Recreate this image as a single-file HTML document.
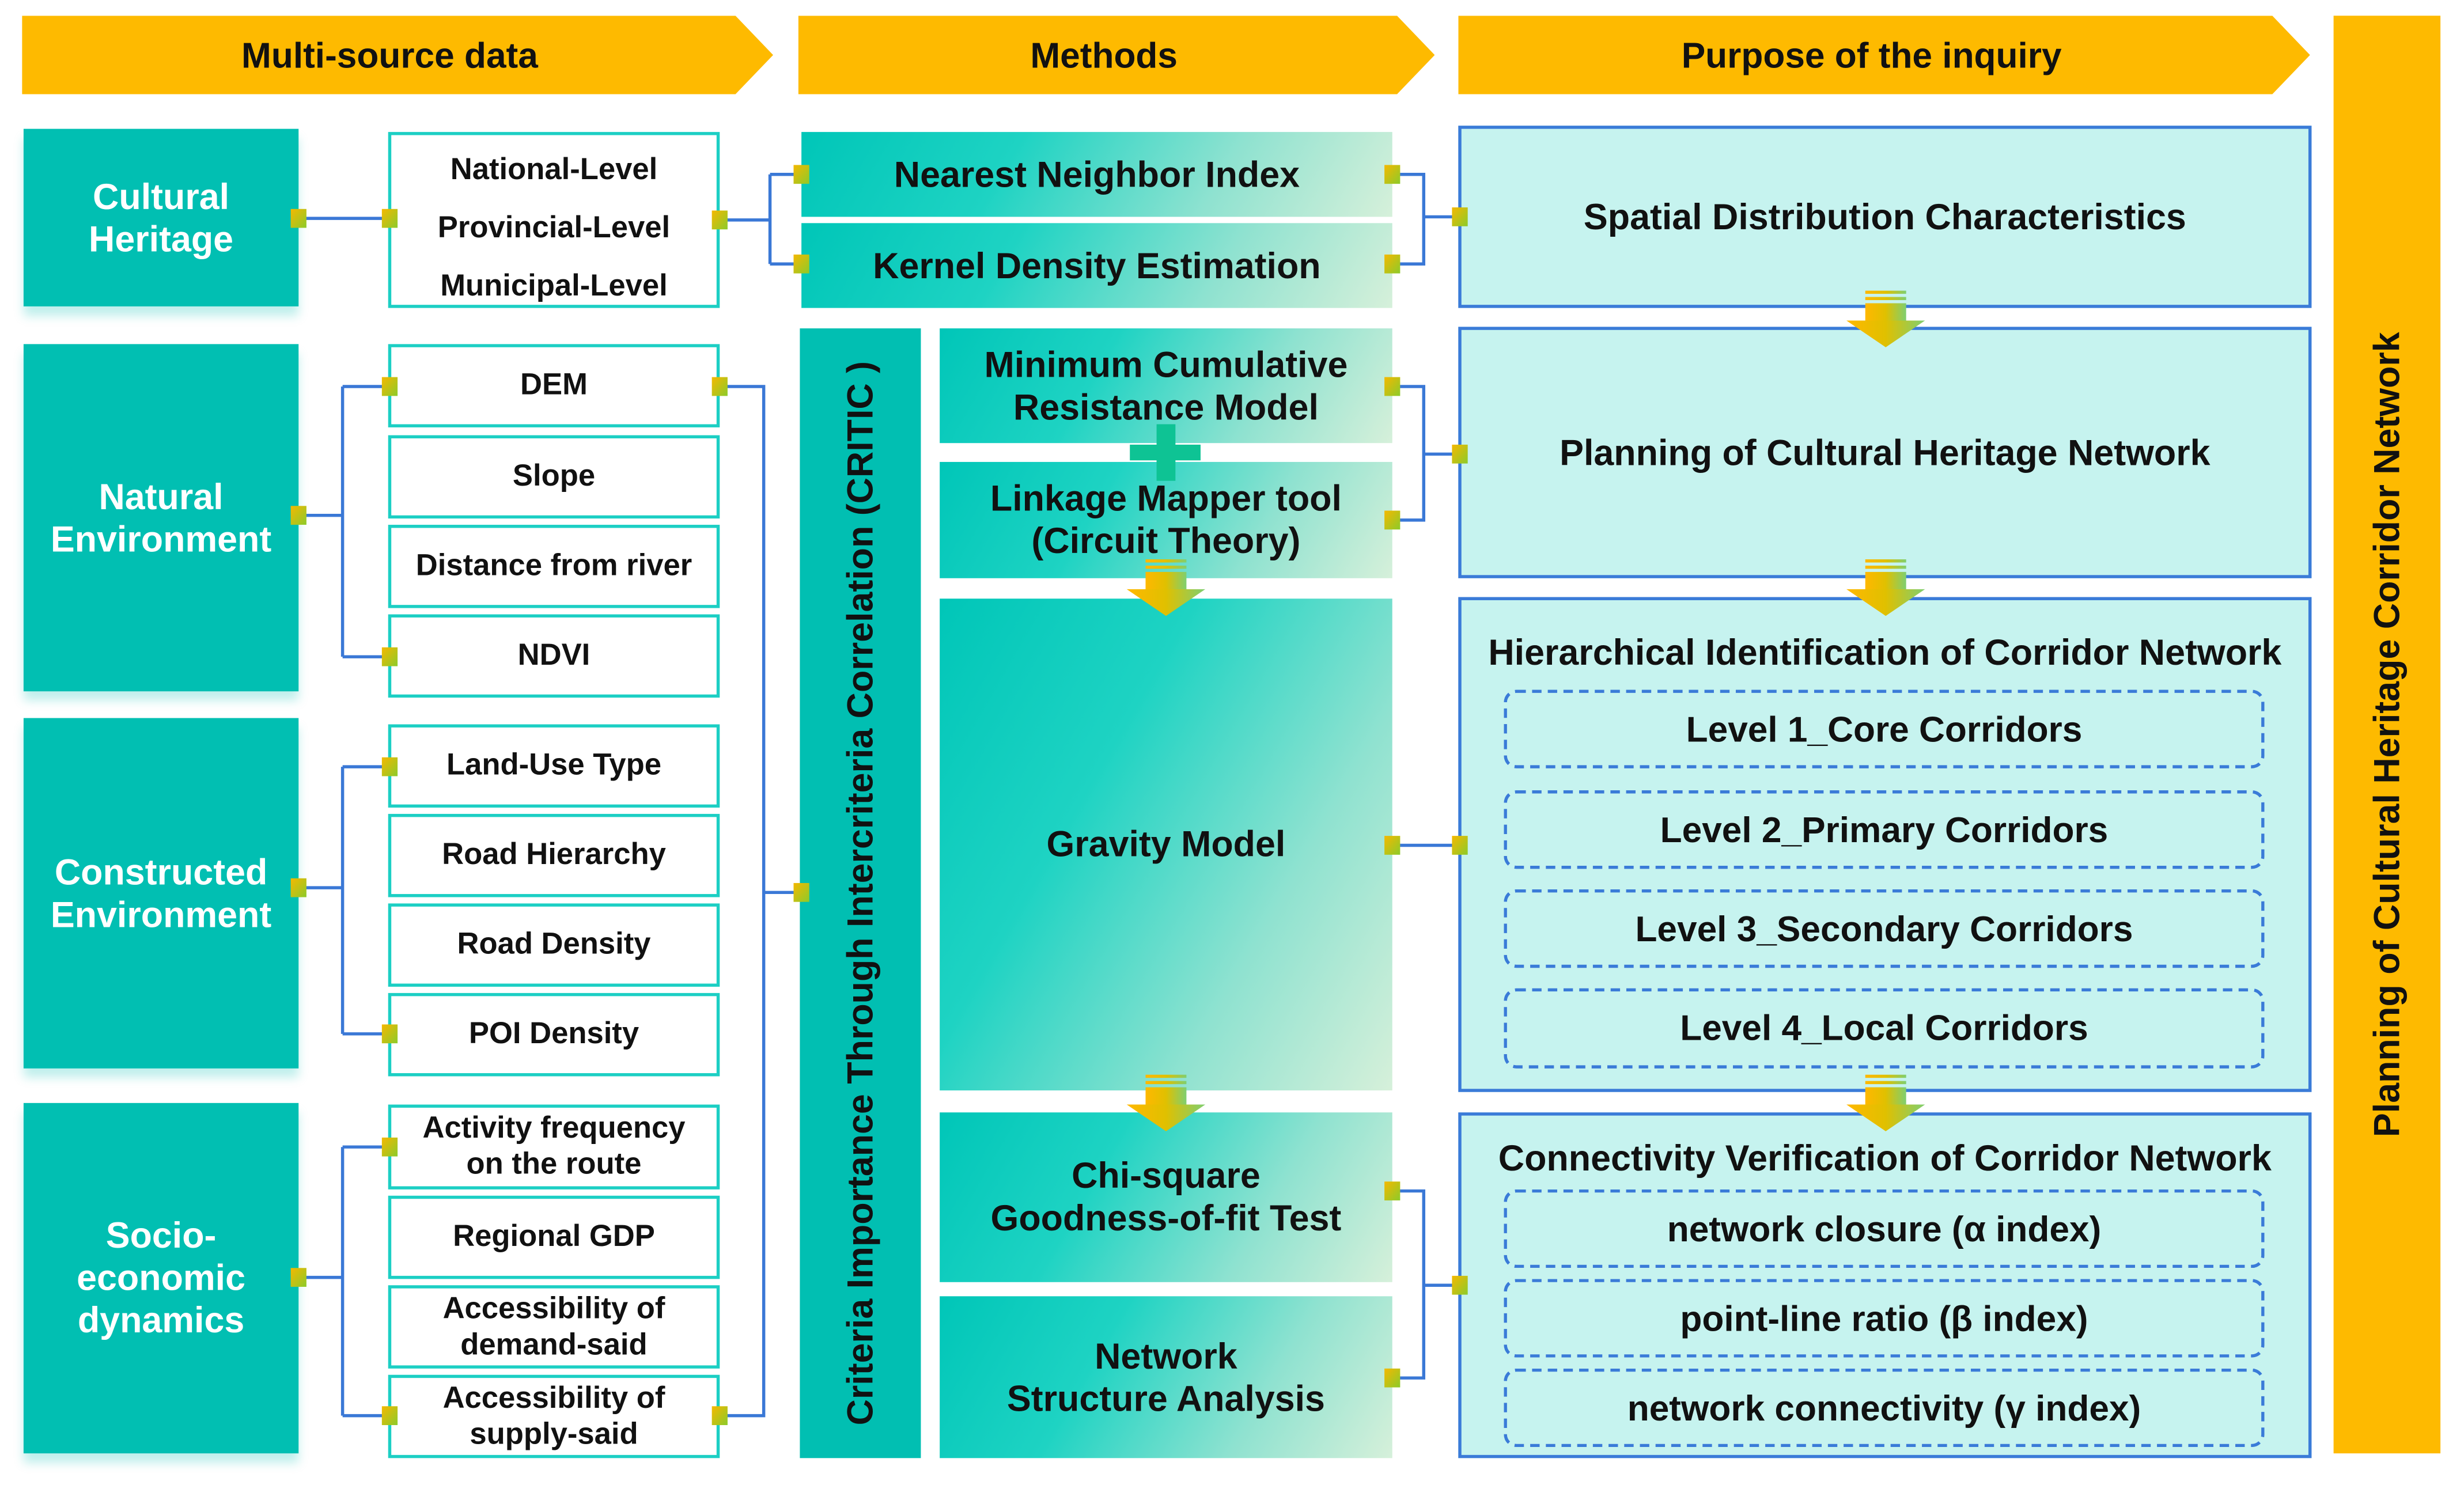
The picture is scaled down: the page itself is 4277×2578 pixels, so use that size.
<!DOCTYPE html>
<html><head><meta charset="utf-8"><style>
html,body{margin:0;padding:0;background:#fff;}
body{width:4277px;height:2577px;overflow:hidden;position:relative;}
#s{position:absolute;left:0;top:0;width:1568px;height:945px;transform:scale(2.72768);transform-origin:0 0;font-family:"Liberation Sans",Arial,sans-serif;font-weight:bold;}
.a{position:absolute;box-sizing:border-box;display:flex;align-items:center;justify-content:center;text-align:center;}
.hd{background:#FEBA00;color:#111;font-size:22.8px;clip-path:polygon(0 0,calc(100% - 24px) 0,100% 50%,calc(100% - 24px) 100%,0 100%);}
.tl{background:#01BFB2;color:#fff;font-size:23px;line-height:27px;box-shadow:0 6px 6px rgba(0,190,180,.25);}
.wb{background:#fff;border:2px solid #1CCFC4;color:#111;font-size:19.3px;line-height:23px;}
.gm{background:linear-gradient(120deg,#00C6B8 0%,#1ED3C3 35%,#8FE2D0 70%,#D6F0DA 100%);color:#111;font-size:23px;line-height:27px;}
.rb{background:#C6F3EF;border:2px solid #3A7BD8;color:#111;font-size:23px;}
.db{border:2px dashed #3A7BD8;border-radius:8px;color:#111;font-size:22.8px;}
</style></head><body><div id="s">
<div class="a hd" style="left:14px;top:10px;width:478px;height:50px;padding-right:10px">Multi-source data</div>
<div class="a hd" style="left:508px;top:10px;width:405px;height:50px;padding-right:16px">Methods</div>
<div class="a hd" style="left:928px;top:10px;width:542px;height:50px;padding-right:16px">Purpose of the inquiry</div>
<div class="a" style="left:1485px;top:10px;width:68px;height:915px;background:#FEBA00;"><div style="transform:rotate(-90deg);white-space:nowrap;font-size:23px;color:#111">Planning of Cultural Heritage Corridor Network</div></div>

<div class="a tl" style="left:15px;top:82px;width:175px;height:113px">Cultural<br>Heritage</div>
<div class="a tl" style="left:15px;top:219px;width:175px;height:221px">Natural<br>Environment</div>
<div class="a tl" style="left:15px;top:457px;width:175px;height:223px">Constructed<br>Environment</div>
<div class="a tl" style="left:15px;top:702px;width:175px;height:223px">Socio-<br>economic<br>dynamics</div>

<div class="a wb" style="left:247px;top:84px;width:211px;height:112px;line-height:37px;padding-top:10px">National-Level<br>Provincial-Level<br>Municipal-Level</div>
<div class="a wb" style="left:247px;top:219px;width:211px;height:53px">DEM</div>
<div class="a wb" style="left:247px;top:277px;width:211px;height:53px">Slope</div>
<div class="a wb" style="left:247px;top:334px;width:211px;height:53px">Distance from river</div>
<div class="a wb" style="left:247px;top:391px;width:211px;height:53px">NDVI</div>
<div class="a wb" style="left:247px;top:461px;width:211px;height:53px">Land-Use Type</div>
<div class="a wb" style="left:247px;top:518px;width:211px;height:53px">Road Hierarchy</div>
<div class="a wb" style="left:247px;top:575px;width:211px;height:53px">Road Density</div>
<div class="a wb" style="left:247px;top:632px;width:211px;height:53px">POI Density</div>
<div class="a wb" style="left:247px;top:703px;width:211px;height:54px">Activity frequency<br>on the route</div>
<div class="a wb" style="left:247px;top:761px;width:211px;height:53px">Regional GDP</div>
<div class="a wb" style="left:247px;top:818px;width:211px;height:53px">Accessibility of<br>demand-said</div>
<div class="a wb" style="left:247px;top:875px;width:211px;height:53px">Accessibility of<br>supply-said</div>

<div class="a gm" style="left:510px;top:84px;width:376px;height:54px">Nearest Neighbor Index</div>
<div class="a gm" style="left:510px;top:142px;width:376px;height:54px">Kernel Density Estimation</div>
<div class="a" style="left:509px;top:209px;width:77px;height:719px;background:#01BFB2;"><div style="transform:rotate(-90deg);white-space:nowrap;font-size:23px;color:#111">Criteria Importance Through Intercriteria Correlation (CRITIC )</div></div>
<div class="a gm" style="left:598px;top:209px;width:288px;height:73px">Minimum Cumulative<br>Resistance Model</div>
<div class="a gm" style="left:598px;top:294px;width:288px;height:74px">Linkage Mapper tool<br>(Circuit Theory)</div>
<div class="a gm" style="left:598px;top:381px;width:288px;height:313px">Gravity Model</div>
<div class="a gm" style="left:598px;top:708px;width:288px;height:108px">Chi-square<br>Goodness-of-fit Test</div>
<div class="a gm" style="left:598px;top:825px;width:288px;height:103px">Network<br>Structure Analysis</div>
<div style="position:absolute;left:719px;top:283px;width:45px;height:10px;background:#0EC394"></div>
<div style="position:absolute;left:736px;top:270px;width:12px;height:36px;background:#0EC394"></div>

<div class="a rb" style="left:928px;top:80px;width:543px;height:116px">Spatial Distribution Characteristics</div>
<div class="a rb" style="left:928px;top:208px;width:543px;height:160px">Planning of Cultural Heritage Network</div>
<div class="a rb" style="left:928px;top:380px;width:543px;height:315px;align-items:flex-start;padding-top:20px">Hierarchical Identification of Corridor Network</div>
<div class="a rb" style="left:928px;top:708px;width:543px;height:220px;align-items:flex-start;padding-top:14px">Connectivity Verification of Corridor Network</div>
<div class="a db" style="left:957px;top:439px;width:484px;height:50px">Level 1_Core Corridors</div>
<div class="a db" style="left:957px;top:503px;width:484px;height:50px">Level 2_Primary Corridors</div>
<div class="a db" style="left:957px;top:566px;width:484px;height:50px">Level 3_Secondary Corridors</div>
<div class="a db" style="left:957px;top:629px;width:484px;height:51px">Level 4_Local Corridors</div>
<div class="a db" style="left:957px;top:757px;width:484px;height:50px">network closure (α index)</div>
<div class="a db" style="left:957px;top:814px;width:484px;height:50px">point-line ratio (β index)</div>
<div class="a db" style="left:957px;top:871px;width:484px;height:50px">network connectivity (γ index)</div>

<svg style="position:absolute;left:0;top:0" width="1568" height="945" viewBox="0 0 1568 945">
<defs>
<linearGradient id="q" x1="0" y1="0" x2="1" y2="1"><stop offset="0" stop-color="#F5B800"/><stop offset="1" stop-color="#8CCB2A"/></linearGradient>
<linearGradient id="ar" x1="0" y1="0" x2="1" y2="0"><stop offset="0" stop-color="#FFB800"/><stop offset=".5" stop-color="#E0C000"/><stop offset="1" stop-color="#7FCF70"/></linearGradient>
<g id="dn"><rect x="-13" y="0" width="26" height="2" fill="url(#ar)"/><rect x="-13" y="4" width="26" height="2" fill="url(#ar)"/><rect x="-13" y="8" width="26" height="12" fill="url(#ar)"/><polygon points="-25,19 25,19 0,36" fill="url(#ar)"/></g>
</defs>
<g fill="none" stroke="#3A78D6" stroke-width="2">
<path d="M190 139H247"/>
<path d="M458 140H490M490 111V168M490 111H510M490 168H510"/>
<path d="M886 111H906V168H886M906 138H928"/>
<path d="M190 328H218M218 246V418M218 246H247M218 418H247"/>
<path d="M190 565H218M218 488V658M218 488H247M218 658H247"/>
<path d="M190 813H218M218 730V901M218 730H247M218 901H247"/>
<path d="M458 246H486V901H458M486 568H509"/>
<path d="M886 246H906V331H886M906 289H928"/>
<path d="M886 538H928"/>
<path d="M886 758H906V877H886M906 818H928"/>
</g>
<g fill="url(#q)">
<rect x="185" y="133" width="10" height="12"/><rect x="243" y="133" width="10" height="12"/>
<rect x="453" y="134" width="10" height="12"/>
<rect x="505" y="105" width="10" height="12"/><rect x="505" y="162" width="10" height="12"/>
<rect x="881" y="105" width="10" height="12"/><rect x="881" y="162" width="10" height="12"/><rect x="924" y="132" width="10" height="12"/>
<rect x="185" y="322" width="10" height="12"/><rect x="243" y="240" width="10" height="12"/><rect x="243" y="412" width="10" height="12"/>
<rect x="185" y="559" width="10" height="12"/><rect x="243" y="482" width="10" height="12"/><rect x="243" y="652" width="10" height="12"/>
<rect x="185" y="807" width="10" height="12"/><rect x="243" y="724" width="10" height="12"/><rect x="243" y="895" width="10" height="12"/>
<rect x="453" y="240" width="10" height="12"/><rect x="453" y="895" width="10" height="12"/><rect x="505" y="562" width="10" height="12"/>
<rect x="881" y="240" width="10" height="12"/><rect x="881" y="325" width="10" height="12"/><rect x="924" y="283" width="10" height="12"/>
<rect x="881" y="532" width="10" height="12"/><rect x="924" y="532" width="10" height="12"/>
<rect x="881" y="752" width="10" height="12"/><rect x="881" y="871" width="10" height="12"/><rect x="924" y="812" width="10" height="12"/>
</g>
<use href="#dn" x="1200" y="185"/>
<use href="#dn" x="1200" y="356"/>
<use href="#dn" x="1200" y="684"/>
<use href="#dn" x="742" y="356"/>
<use href="#dn" x="742" y="684"/>
</svg>
</div></body></html>
